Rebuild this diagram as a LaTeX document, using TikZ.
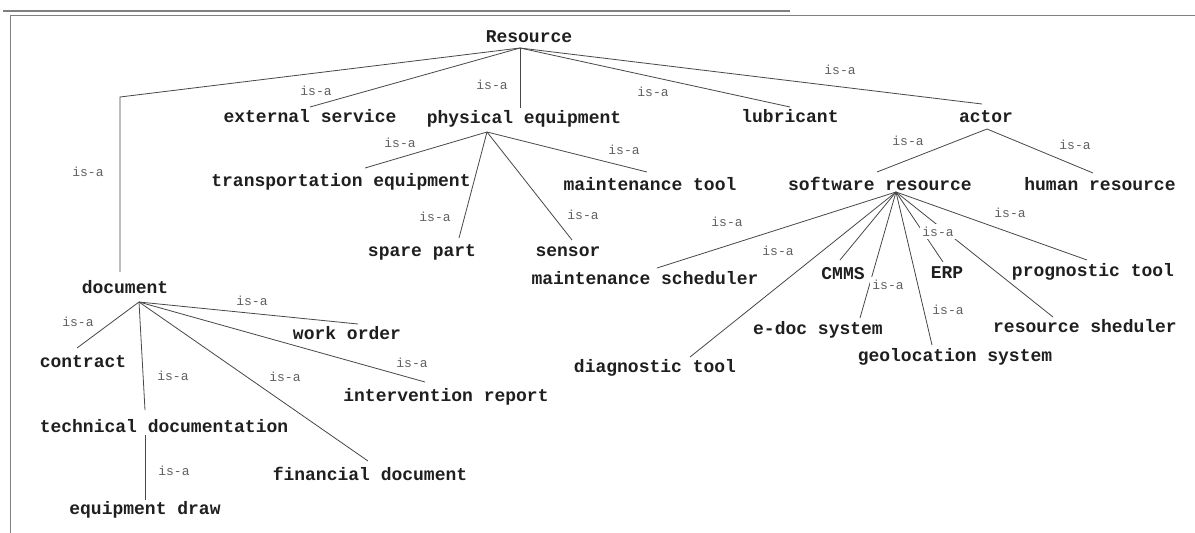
\documentclass[tikz,border=0pt]{standalone}
\usepackage{fontspec}
\setmonofont{Liberation Mono}
\begin{document}
\begin{tikzpicture}[x=1pt,y=-1pt,
  concept/.style={font=\ttfamily\bfseries\fontsize{18}{18}\selectfont, text=black!88, inner sep=0pt, anchor=mid, yshift=-4pt},
  isa/.style={font=\ttfamily\fontsize{13}{13}\selectfont, text=black!62, fill=white, inner sep=2.5pt, anchor=mid, yshift=-2pt},
  link/.style={draw=black!72, line width=0.8pt},
  framerule/.style={draw=black!50, line width=1.6pt}]

% canvas
\fill[white] (0,0) rectangle (1195,533);
\useasboundingbox (0,0) rectangle (1195,533);

% window frame
\draw[framerule] (3,11) -- (790,11);
\draw[framerule] (10,15.5) -- (1195,15.5);
\draw[framerule] (10.5,15) -- (10.5,533);

% ---------- concepts ----------
\node[concept] (res)     at (529,36)  {Resource};
\node[concept] (ext)     at (310,116) {external service};
\node[concept] (pe)      at (524,117) {physical equipment};
\node[concept] (lub)     at (790,116) {lubricant};
\node[concept] (act)     at (986,116) {actor};
\node[concept] (doc)     at (125,287) {document};
\node[concept] (trans)   at (341,180) {transportation equipment};
\node[concept] (mtool)   at (650,184) {maintenance tool};
\node[concept] (spare)   at (422,250) {spare part};
\node[concept] (sensor)  at (568,250) {sensor};
\node[concept] (sw)      at (880,184) {software resource};
\node[concept] (hum)     at (1100,184) {human resource};
\node[concept] (msched)  at (645,278) {maintenance scheduler};
\node[concept] (cmms)    at (843,273) {CMMS};
\node[concept] (erp)     at (947,272) {ERP};
\node[concept] (prog)    at (1093,270) {prognostic tool};
\node[concept] (edoc)    at (818,328) {e-doc system};
\node[concept] (rsched)  at (1085,326) {resource sheduler};
\node[concept] (diag)    at (655,366) {diagnostic tool};
\node[concept] (geo)     at (955,355) {geolocation system};
\node[concept] (contract) at (83,361) {contract};
\node[concept] (worder)  at (347,333) {work order};
\node[concept] (interv)  at (446,395) {intervention report};
\node[concept] (techdoc) at (164,426) {technical documentation};
\node[concept] (fin)     at (370,474) {financial document};
\node[concept] (eqdraw)  at (145,508) {equipment draw};

% ---------- attachment points ----------
\coordinate (res-h)    at (520,48);
\coordinate (pe-h)     at (487,132);
\coordinate (act-h)    at (987,129);
\coordinate (sw-h)     at (896,192);
\coordinate (doc-h)    at (139,302);
\coordinate (techdoc-h) at (145,435);
\coordinate (doc-bend) at (120,97);

\coordinate (doc-in)    at (120,272);
\coordinate (ext-in)    at (310,107);
\coordinate (pe-in)     at (520,108);
\coordinate (lub-in)    at (790,107);
\coordinate (act-in)    at (982,104);
\coordinate (trans-in)  at (365,168);
\coordinate (spare-in)  at (459,238);
\coordinate (sensor-in) at (572,240);
\coordinate (mtool-in)  at (647,172);
\coordinate (sw-in)     at (877,172);
\coordinate (hum-in)    at (1093,173);
\coordinate (msched-in) at (657,268);
\coordinate (diag-in)   at (690,357);
\coordinate (cmms-in)   at (840,260);
\coordinate (edoc-in)   at (860,318);
\coordinate (geo-in)    at (932,345);
\coordinate (erp-in)    at (943,262);
\coordinate (rsched-in) at (1053,317);
\coordinate (prog-in)   at (1087,260);
\coordinate (contract-in) at (77,348);
\coordinate (techdoc-in)  at (145,410);
\coordinate (fin-in)    at (368,461);
\coordinate (interv-in) at (425,382);
\coordinate (worder-in) at (358,324);
\coordinate (eqdraw-in) at (145,500);

% ---------- is-a links ----------
\draw[link] (res-h) -- (doc-bend) -- (doc-in);
\draw[link] (res-h) -- (ext-in);
\draw[link] (res-h) -- (pe-in);
\draw[link] (res-h) -- (lub-in);
\draw[link] (res-h) -- (act-in);

\draw[link] (pe-h) -- (trans-in);
\draw[link] (pe-h) -- (spare-in);
\draw[link] (pe-h) -- (sensor-in);
\draw[link] (pe-h) -- (mtool-in);

\draw[link] (act-h) -- (sw-in);
\draw[link] (act-h) -- (hum-in);

\draw[link] (sw-h) -- (msched-in);
\draw[link] (sw-h) -- (diag-in);
\draw[link] (sw-h) -- (cmms-in);
\draw[link] (sw-h) -- (edoc-in);
\draw[link] (sw-h) -- (geo-in);
\draw[link] (sw-h) -- (erp-in);
\draw[link] (sw-h) -- (rsched-in);
\draw[link] (sw-h) -- (prog-in);

\draw[link] (doc-h) -- (contract-in);
\draw[link] (doc-h) -- (techdoc-in);
\draw[link] (doc-h) -- (fin-in);
\draw[link] (doc-h) -- (interv-in);
\draw[link] (doc-h) -- (worder-in);
\draw[link] (techdoc-h) -- (eqdraw-in);

% ---------- link labels ----------
\node[isa] (l-doc)    at (88,172)  {is-a};
\node[isa] (l-ext)    at (316,91)  {is-a};
\node[isa] (l-pe)     at (492,85)  {is-a};
\node[isa] (l-lub)    at (653,92)  {is-a};
\node[isa] (l-act)    at (840,70)  {is-a};
\node[isa] (l-trans)  at (400,143) {is-a};
\node[isa] (l-spare)  at (435,217) {is-a};
\node[isa] (l-sensor) at (583,215) {is-a};
\node[isa] (l-mtool)  at (624,150) {is-a};
\node[isa] (l-sw)     at (908,141) {is-a};
\node[isa] (l-hum)    at (1075,145) {is-a};
\node[isa] (l-msched) at (727,222) {is-a};
\node[isa] (l-diag)   at (778,251) {is-a};
\node[isa] (l-erp)    at (938,232) {is-a};
\node[isa] (l-edoc)   at (888,285) {is-a};
\node[isa] (l-geo)    at (948,310) {is-a};
\node[isa] (l-prog)   at (1010,213) {is-a};
\node[isa] (l-contract) at (78,322) {is-a};
\node[isa] (l-techdoc)  at (173,376) {is-a};
\node[isa] (l-fin)    at (285,377) {is-a};
\node[isa] (l-interv) at (412,363) {is-a};
\node[isa] (l-worder) at (252,301) {is-a};
\node[isa] (l-eqdraw) at (174,471) {is-a};
\end{tikzpicture}
\end{document}
